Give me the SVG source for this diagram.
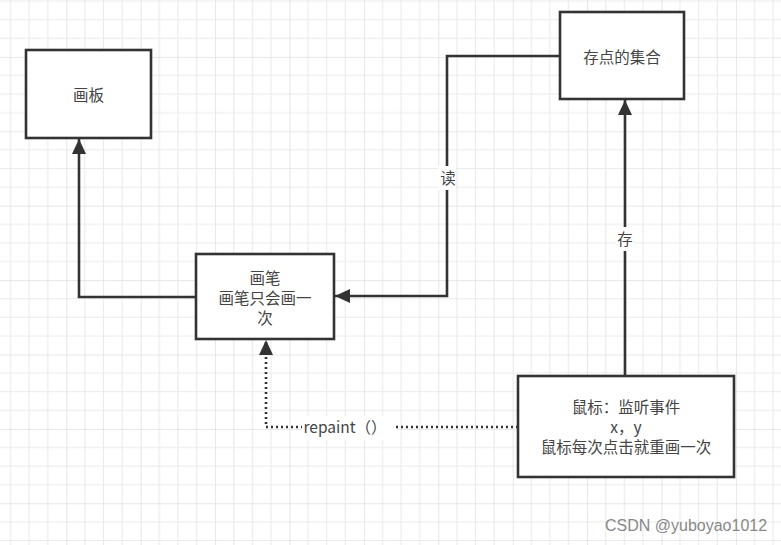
<svg xmlns="http://www.w3.org/2000/svg" width="781" height="545" viewBox="0 0 781 545">
<style>
.box{fill:#fff;stroke:#333;stroke-width:2.6}
.t{font-family:"Noto Sans CJK SC","Liberation Sans",sans-serif;font-size:15.5px;fill:#444;text-anchor:middle}
.lbl{font-family:"Noto Sans CJK SC","Liberation Sans",sans-serif;font-size:15.5px;fill:#444;text-anchor:middle}
.edge{fill:none;stroke:#333;stroke-width:2.6}
.dot{fill:none;stroke:#333;stroke-width:2.6;stroke-dasharray:2 3}
.wm{font-family:"Liberation Sans",Arial,sans-serif;font-size:16px;fill:#888}
</style>
<defs>
<pattern id="grid" patternUnits="userSpaceOnUse" x="-8.1" y="-17.5" width="74.4" height="74.4">
<path d="M18.6 0V74.4M37.2 0V74.4M55.8 0V74.4M0 18.6H74.4M0 37.2H74.4M0 55.8H74.4" stroke="#ebebeb" stroke-width="1.2" fill="none"/>
<path d="M0 0V74.4M0 0H74.4" stroke="#e0e0e0" stroke-width="1.6" fill="none"/>
</pattern>
<marker id="arr" markerUnits="userSpaceOnUse" markerWidth="16" markerHeight="14" refX="15" refY="7" orient="auto">
<path d="M0 0L15 7L0 14Z" fill="#333"/>
</marker>
</defs>
<rect width="781" height="545" fill="#fff"/>
<rect width="781" height="545" fill="url(#grid)"/>
<g id="connectors">
<path class="edge" d="M196 297H79V139" marker-end="url(#arr)"/>
<path class="edge" d="M560 56H447V296H335" marker-end="url(#arr)"/>
<path class="edge" d="M625 376V100" marker-end="url(#arr)"/>
<path class="dot" d="M518 427H266V340" marker-end="url(#arr)"/>
<rect x="438" y="166" width="18" height="24" fill="#fff"/>
<text class="lbl" x="448" y="184">读</text>
<rect x="616" y="227" width="18" height="24" fill="#fff"/>
<text class="lbl" x="625" y="245">存</text>
<rect x="302" y="416" width="94" height="24" fill="#fff"/>
<text class="lbl" x="345" y="433">repaint（）</text>
</g>
<g id="huaban">
<rect class="box" x="26" y="50" width="125" height="88"/>
<text class="t" x="88.5" y="101">画板</text>
</g>
<g id="cundian">
<rect class="box" x="560" y="12" width="124" height="87"/>
<text class="t" x="622" y="63">存点的集合</text>
</g>
<g id="huabi">
<rect class="box" x="196" y="254" width="138" height="85"/>
<text class="t" x="265" y="284">画笔</text>
<text class="t" x="265" y="304">画笔只会画一</text>
<text class="t" x="265" y="324">次</text>
</g>
<g id="shubiao">
<rect class="box" x="518" y="376" width="216" height="101"/>
<text class="t" x="626" y="413">鼠标：监听事件</text>
<text class="t" x="626" y="433">x，y</text>
<text class="t" x="626" y="453">鼠标每次点击就重画一次</text>
</g>
<text class="wm" x="605" y="531">CSDN @yuboyao1012</text>
</svg>
